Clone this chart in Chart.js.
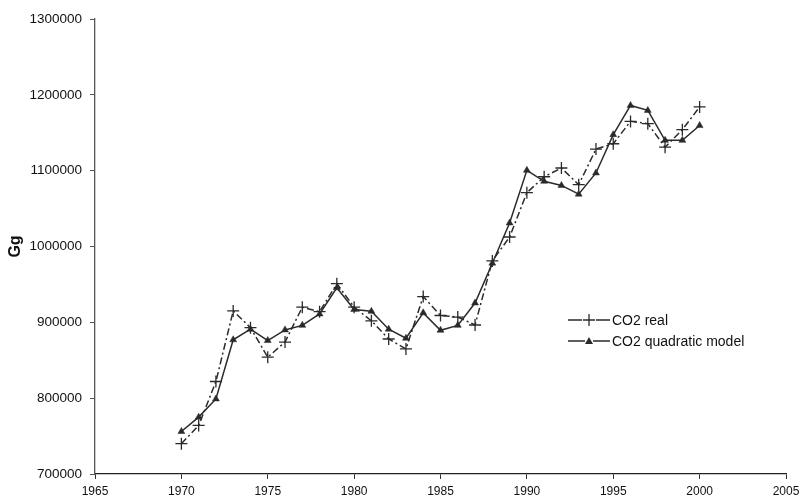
<!DOCTYPE html>
<html>
<head>
<meta charset="utf-8">
<style>
  html, body { margin: 0; padding: 0; background: #fff; }
  #wrap { width: 799px; height: 502px; }
</style>
<script src="https://cdn.jsdelivr.net/npm/chart.js@4.4.0/dist/chart.umd.min.js"></script>
</head>
<body>
<div id="wrap"><canvas id="c" width="799" height="502"></canvas></div>
<script>
const years = [1970,1971,1972,1973,1974,1975,1976,1977,1978,1979,1980,1981,1982,1983,1984,1985,1986,1987,1988,1989,1990,1991,1992,1993,1994,1995,1996,1997,1998,1999,2000];
const co2Real = [740000,764000,822000,915000,893000,854000,874000,920000,914000,951000,920000,902000,878000,865000,934000,909000,907000,896500,981000,1012500,1071000,1092000,1103500,1081500,1128500,1135500,1165000,1162000,1131000,1154000,1184000];
const co2Model = [756000,775000,799000,877000,891000,876000,890000,896000,911000,945500,917000,914500,891000,879000,912500,889500,896000,925500,978000,1031000,1100500,1086000,1080500,1069000,1097000,1147500,1186000,1179500,1140000,1140000,1159500];
const xTickMin = 1965, xTickMax = 2005, xTickStep = 5;
const yTickMin = 700000, yTickMax = 1300000, yTickStep = 100000;
const legendLabels = ['CO2 real', 'CO2 quadratic model'];
const yTitle = 'Gg';

const INK = '#2a2a2a';
const FONT = 'Liberation Sans, Arial, sans-serif';

function pts(vals) { return years.map((y, i) => ({ x: y, y: vals[i] })); }

const legendPlugin = {
  id: 'insideLegend',
  afterDraw(chart) {
    const ctx = chart.ctx;
    const items = [
      { label: legendLabels[0], marker: 'cross', y: 320 },
      { label: legendLabels[1], marker: 'triangle', y: 341 }
    ];
    const x0 = 568, x1 = 610, xm = 589;
    ctx.save();
    items.forEach(it => {
      ctx.strokeStyle = INK;
      ctx.fillStyle = INK;
      ctx.lineWidth = 1.5;
      ctx.setLineDash([]);
      ctx.beginPath();
      ctx.moveTo(x0, it.y); ctx.lineTo(xm - 7, it.y);
      ctx.moveTo(xm + 7, it.y); ctx.lineTo(x1, it.y);
      ctx.stroke();
      if (it.marker === 'cross') {
        ctx.lineWidth = 1.3;
        ctx.beginPath();
        ctx.moveTo(xm - 6, it.y); ctx.lineTo(xm + 6, it.y);
        ctx.moveTo(xm, it.y - 6); ctx.lineTo(xm, it.y + 6);
        ctx.stroke();
      } else {
        ctx.beginPath();
        ctx.moveTo(xm, it.y - 4);
        ctx.lineTo(xm + 4, it.y + 3);
        ctx.lineTo(xm - 4, it.y + 3);
        ctx.closePath();
        ctx.fill();
        ctx.beginPath();
        ctx.moveTo(xm - 7, it.y); ctx.lineTo(xm - 4, it.y);
        ctx.moveTo(xm + 4, it.y); ctx.lineTo(xm + 7, it.y);
        ctx.stroke();
      }
      ctx.font = '14px ' + FONT;
      ctx.textAlign = 'left';
      ctx.textBaseline = 'middle';
      ctx.fillStyle = '#111';
      ctx.fillText(it.label, 612, it.y + 1);
    });
    ctx.restore();
  }
};

new Chart(document.getElementById('c'), {
  type: 'line',
  data: {
    datasets: [
      {
        label: legendLabels[0],
        data: pts(co2Real),
        borderColor: INK,
        backgroundColor: INK,
        borderWidth: 1.5,
        borderDash: [7,3,2,3],
        pointStyle: 'cross',
        pointRadius: 6,
        pointBorderWidth: 1.3,
        pointBorderColor: INK,
        tension: 0,
        fill: false
      },
      {
        label: legendLabels[1],
        data: pts(co2Model),
        borderColor: INK,
        backgroundColor: INK,
        borderWidth: 1.5,
        pointStyle: 'triangle',
        pointRadius: 4,
        pointBorderWidth: 0.5,
        pointBackgroundColor: INK,
        pointBorderColor: INK,
        tension: 0,
        fill: false
      }
    ]
  },
  options: {
    responsive: false,
    animation: false,
    devicePixelRatio: 1,
    layout: { padding: { left: 0, top: 19, right: 13, bottom: 0 } },
    plugins: { legend: { display: false }, tooltip: { enabled: false } },
    scales: {
      x: {
        type: 'linear',
        min: xTickMin, max: xTickMax,
        afterFit(s) { s.height = 28; s.paddingRight = 0; s.paddingLeft = 0; },
        ticks: {
          stepSize: xTickStep,
          color: '#111',
          font: { family: FONT, size: 12 },
          padding: 5,
          maxRotation: 0,
          callback: v => String(v)
        },
        grid: { drawOnChartArea: false, drawTicks: true, tickLength: 5, color: '#333', lineWidth: 1 },
        border: { display: true, color: '#222', width: 1.3 }
      },
      y: {
        type: 'linear',
        min: yTickMin, max: yTickMax,
        afterFit(s) { s.width = 95; s.paddingTop = 0; s.paddingBottom = 0; },
        ticks: {
          stepSize: yTickStep,
          color: '#111',
          font: { family: FONT, size: 13.5 },
          padding: 8,
          callback: v => String(v)
        },
        title: {
          display: true,
          text: yTitle,
          color: '#111',
          font: { family: FONT, size: 16, weight: 'bold' },
          padding: { top: 6, bottom: 0 }
        },
        grid: { drawOnChartArea: false, drawTicks: true, tickLength: 5, color: '#555', lineWidth: 1 },
        border: { display: true, color: '#555', width: 1.3 }
      }
    }
  },
  plugins: [legendPlugin]
});
</script>
</body>
</html>
